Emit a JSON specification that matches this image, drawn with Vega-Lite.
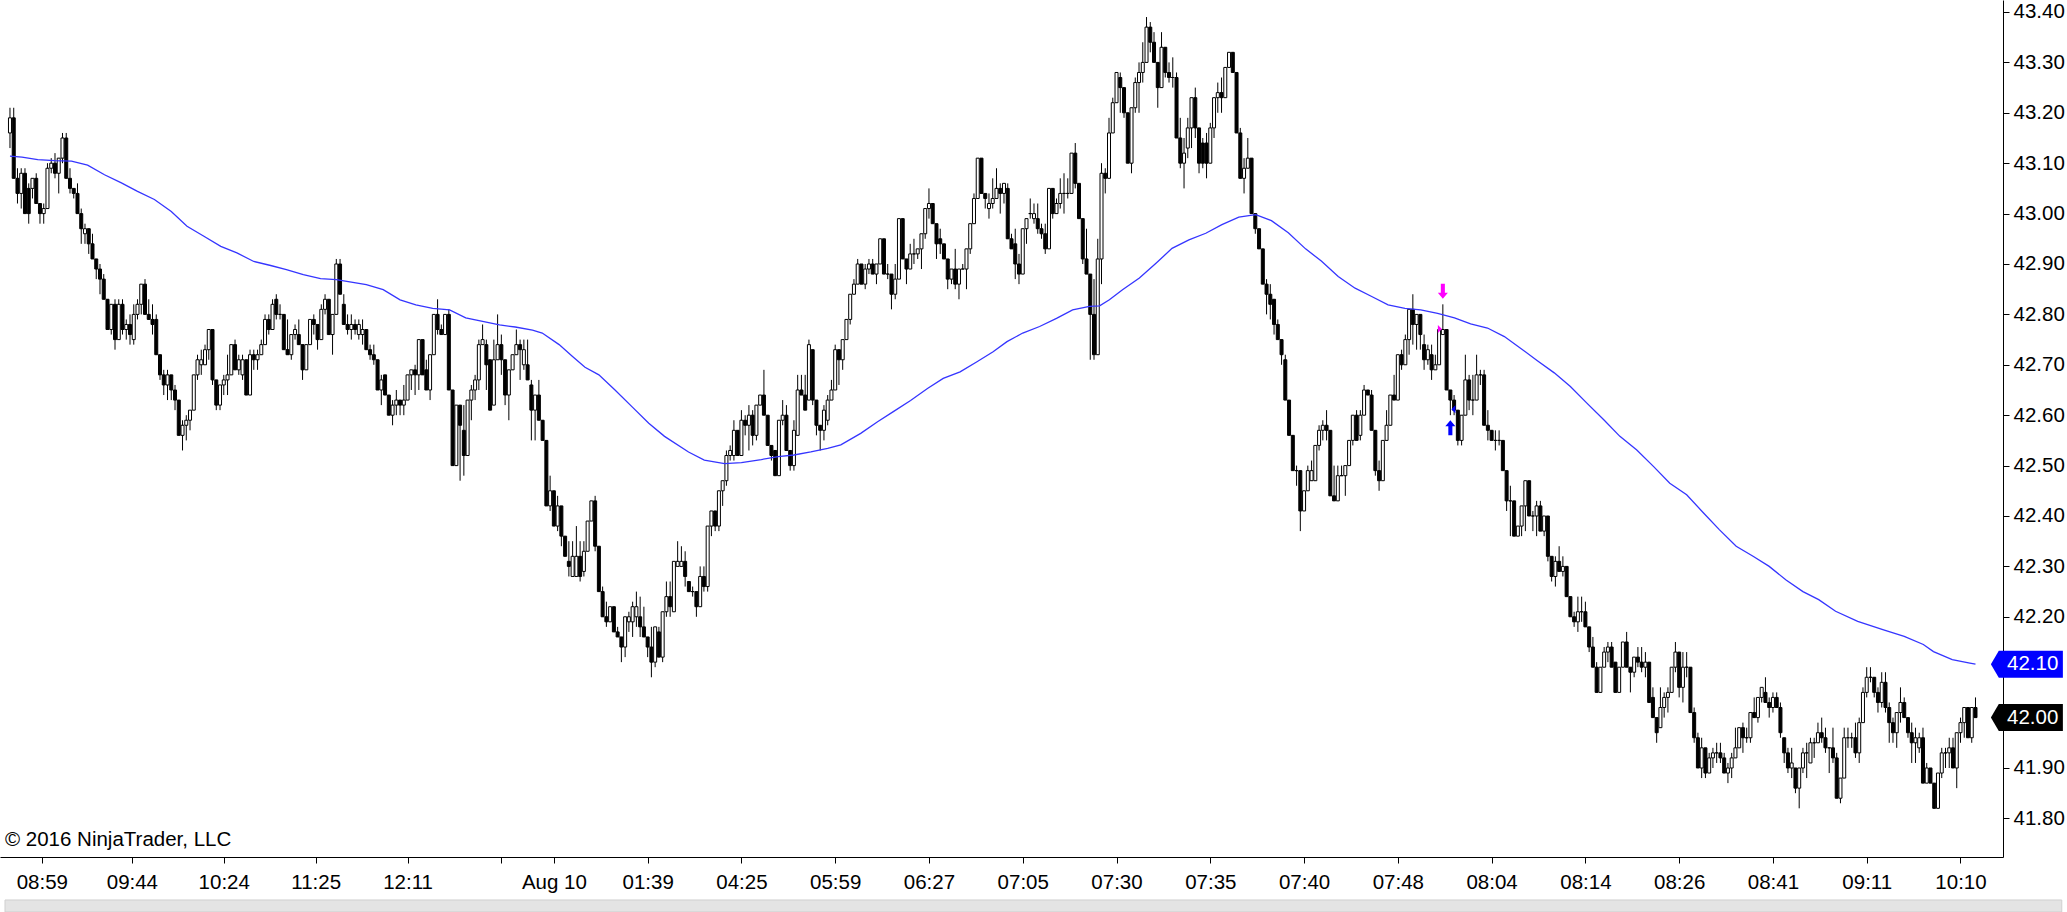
{
"$schema":"https://vega.github.io/schema/vega-lite/v6.json",
"width":2003,"height":857,
"autosize":{"type":"none"},
"padding":{"left":0,"top":0,"right":64,"bottom":55},
"background":"white",
"config":{"view":{"stroke":null},"font":"Liberation Sans",
"axis":{"labelFont":"Liberation Sans","labelFontSize":20.5,"labelColor":"#000000","domainColor":"#000000","tickColor":"#000000","grid":false,"tickSize":6,"domainWidth":1,"tickWidth":1}},
"datasets":{
"bars":[
{"i":0,"o":43.16,"h":43.21,"l":43.13,"c":43.19},{"i":1,"o":43.19,"h":43.21,"l":43.07,"c":43.07},{"i":2,"o":43.07,"h":43.09,"l":43.02,"c":43.04},{"i":3,"o":43.04,"h":43.09,"l":43.01,"c":43.08},{"i":4,"o":43.08,"h":43.09,"l":43.00,"c":43.00},{"i":5,"o":43.05,"h":43.06,"l":42.98,"c":43.00},{"i":6,"o":43.05,"h":43.07,"l":43.03,"c":43.07},{"i":7,"o":43.07,"h":43.08,"l":43.02,"c":43.02},{"i":8,"o":43.02,"h":43.02,"l":42.98,"c":43.00},{"i":9,"o":43.00,"h":43.02,"l":42.98,"c":43.01},
{"i":10,"o":43.01,"h":43.10,"l":43.01,"c":43.09},{"i":11,"o":43.09,"h":43.11,"l":43.08,"c":43.10},{"i":12,"o":43.10,"h":43.12,"l":43.07,"c":43.08},{"i":13,"o":43.08,"h":43.11,"l":43.04,"c":43.11},{"i":14,"o":43.11,"h":43.16,"l":43.10,"c":43.15},{"i":15,"o":43.15,"h":43.16,"l":43.07,"c":43.07},{"i":16,"o":43.07,"h":43.09,"l":43.04,"c":43.05},{"i":17,"o":43.05,"h":43.05,"l":43.03,"c":43.04},{"i":18,"o":43.04,"h":43.06,"l":43.00,"c":43.00},{"i":19,"o":43.00,"h":43.01,"l":42.94,"c":42.97},
{"i":20,"o":42.96,"h":42.98,"l":42.94,"c":42.97},{"i":21,"o":42.97,"h":42.97,"l":42.92,"c":42.94},{"i":22,"o":42.94,"h":42.96,"l":42.91,"c":42.91},{"i":23,"o":42.91,"h":42.91,"l":42.87,"c":42.89},{"i":24,"o":42.89,"h":42.90,"l":42.84,"c":42.87},{"i":25,"o":42.87,"h":42.88,"l":42.83,"c":42.83},{"i":26,"o":42.83,"h":42.83,"l":42.77,"c":42.77},{"i":27,"o":42.77,"h":42.82,"l":42.76,"c":42.82},{"i":28,"o":42.82,"h":42.83,"l":42.73,"c":42.75},{"i":29,"o":42.75,"h":42.83,"l":42.75,"c":42.82},
{"i":30,"o":42.82,"h":42.83,"l":42.76,"c":42.77},{"i":31,"o":42.77,"h":42.79,"l":42.75,"c":42.78},{"i":32,"o":42.78,"h":42.80,"l":42.74,"c":42.76},{"i":33,"o":42.75,"h":42.82,"l":42.74,"c":42.80},{"i":34,"o":42.80,"h":42.83,"l":42.79,"c":42.82},{"i":35,"o":42.82,"h":42.86,"l":42.80,"c":42.86},{"i":36,"o":42.86,"h":42.87,"l":42.80,"c":42.80},{"i":37,"o":42.80,"h":42.83,"l":42.79,"c":42.79},{"i":38,"o":42.79,"h":42.82,"l":42.76,"c":42.78},{"i":39,"o":42.79,"h":42.80,"l":42.72,"c":42.72},
{"i":40,"o":42.72,"h":42.72,"l":42.67,"c":42.68},{"i":41,"o":42.68,"h":42.69,"l":42.64,"c":42.66},{"i":42,"o":42.66,"h":42.69,"l":42.63,"c":42.68},{"i":43,"o":42.68,"h":42.68,"l":42.63,"c":42.65},{"i":44,"o":42.65,"h":42.66,"l":42.61,"c":42.63},{"i":45,"o":42.63,"h":42.63,"l":42.56,"c":42.56},{"i":46,"o":42.56,"h":42.59,"l":42.53,"c":42.58},{"i":47,"o":42.58,"h":42.60,"l":42.55,"c":42.59},{"i":48,"o":42.59,"h":42.61,"l":42.57,"c":42.61},{"i":49,"o":42.61,"h":42.68,"l":42.61,"c":42.68},
{"i":50,"o":42.68,"h":42.72,"l":42.67,"c":42.71},{"i":51,"o":42.70,"h":42.73,"l":42.68,"c":42.71},{"i":52,"o":42.70,"h":42.74,"l":42.70,"c":42.73},{"i":53,"o":42.73,"h":42.77,"l":42.71,"c":42.77},{"i":54,"o":42.77,"h":42.77,"l":42.66,"c":42.67},{"i":55,"o":42.67,"h":42.67,"l":42.61,"c":42.62},{"i":56,"o":42.62,"h":42.66,"l":42.61,"c":42.66},{"i":57,"o":42.66,"h":42.68,"l":42.64,"c":42.67},{"i":58,"o":42.67,"h":42.72,"l":42.64,"c":42.68},{"i":59,"o":42.68,"h":42.74,"l":42.68,"c":42.74},
{"i":60,"o":42.74,"h":42.75,"l":42.69,"c":42.69},{"i":61,"o":42.69,"h":42.72,"l":42.68,"c":42.71},{"i":62,"o":42.68,"h":42.72,"l":42.67,"c":42.71},{"i":63,"o":42.71,"h":42.71,"l":42.64,"c":42.64},{"i":64,"o":42.64,"h":42.73,"l":42.64,"c":42.72},{"i":65,"o":42.72,"h":42.73,"l":42.69,"c":42.71},{"i":66,"o":42.71,"h":42.73,"l":42.69,"c":42.72},{"i":67,"o":42.72,"h":42.75,"l":42.72,"c":42.74},{"i":68,"o":42.74,"h":42.80,"l":42.74,"c":42.79},{"i":69,"o":42.79,"h":42.80,"l":42.76,"c":42.77},
{"i":70,"o":42.77,"h":42.83,"l":42.77,"c":42.82},{"i":71,"o":42.83,"h":42.84,"l":42.79,"c":42.80},{"i":72,"o":42.80,"h":42.82,"l":42.79,"c":42.80},{"i":73,"o":42.80,"h":42.80,"l":42.73,"c":42.73},{"i":74,"o":42.73,"h":42.79,"l":42.72,"c":42.72},{"i":75,"o":42.72,"h":42.76,"l":42.71,"c":42.76},{"i":76,"o":42.76,"h":42.78,"l":42.75,"c":42.77},{"i":77,"o":42.76,"h":42.79,"l":42.74,"c":42.74},{"i":78,"o":42.74,"h":42.74,"l":42.67,"c":42.69},{"i":79,"o":42.69,"h":42.74,"l":42.69,"c":42.74},
{"i":80,"o":42.74,"h":42.79,"l":42.74,"c":42.79},{"i":81,"o":42.79,"h":42.80,"l":42.76,"c":42.78},{"i":82,"o":42.78,"h":42.78,"l":42.73,"c":42.75},{"i":83,"o":42.75,"h":42.82,"l":42.75,"c":42.81},{"i":84,"o":42.81,"h":42.84,"l":42.80,"c":42.83},{"i":85,"o":42.83,"h":42.83,"l":42.76,"c":42.76},{"i":86,"o":42.76,"h":42.80,"l":42.72,"c":42.80},{"i":87,"o":42.80,"h":42.91,"l":42.80,"c":42.90},{"i":88,"o":42.90,"h":42.91,"l":42.84,"c":42.84},{"i":89,"o":42.82,"h":42.84,"l":42.78,"c":42.78},
{"i":90,"o":42.78,"h":42.80,"l":42.76,"c":42.77},{"i":91,"o":42.77,"h":42.80,"l":42.75,"c":42.78},{"i":92,"o":42.78,"h":42.79,"l":42.76,"c":42.77},{"i":93,"o":42.76,"h":42.79,"l":42.75,"c":42.78},{"i":94,"o":42.76,"h":42.79,"l":42.74,"c":42.77},{"i":95,"o":42.77,"h":42.77,"l":42.73,"c":42.73},{"i":96,"o":42.73,"h":42.74,"l":42.71,"c":42.72},{"i":97,"o":42.72,"h":42.74,"l":42.70,"c":42.71},{"i":98,"o":42.71,"h":42.71,"l":42.65,"c":42.65},{"i":99,"o":42.65,"h":42.68,"l":42.62,"c":42.67},
{"i":100,"o":42.68,"h":42.68,"l":42.64,"c":42.64},{"i":101,"o":42.64,"h":42.64,"l":42.60,"c":42.60},{"i":102,"o":42.60,"h":42.63,"l":42.58,"c":42.62},{"i":103,"o":42.62,"h":42.65,"l":42.60,"c":42.63},{"i":104,"o":42.63,"h":42.63,"l":42.60,"c":42.62},{"i":105,"o":42.62,"h":42.66,"l":42.60,"c":42.63},{"i":106,"o":42.63,"h":42.68,"l":42.63,"c":42.68},{"i":107,"o":42.68,"h":42.69,"l":42.65,"c":42.69},{"i":108,"o":42.69,"h":42.70,"l":42.64,"c":42.68},{"i":109,"o":42.68,"h":42.75,"l":42.65,"c":42.75},
{"i":110,"o":42.75,"h":42.75,"l":42.68,"c":42.68},{"i":111,"o":42.69,"h":42.71,"l":42.65,"c":42.65},{"i":112,"o":42.65,"h":42.72,"l":42.63,"c":42.72},{"i":113,"o":42.72,"h":42.80,"l":42.72,"c":42.80},{"i":114,"o":42.80,"h":42.83,"l":42.76,"c":42.77},{"i":115,"o":42.77,"h":42.78,"l":42.76,"c":42.76},{"i":116,"o":42.76,"h":42.80,"l":42.76,"c":42.80},{"i":117,"o":42.80,"h":42.81,"l":42.65,"c":42.65},{"i":118,"o":42.65,"h":42.65,"l":42.50,"c":42.50},{"i":119,"o":42.50,"h":42.62,"l":42.50,"c":42.62},
{"i":120,"o":42.62,"h":42.62,"l":42.47,"c":42.58},{"i":121,"o":42.57,"h":42.62,"l":42.48,"c":42.52},{"i":122,"o":42.52,"h":42.63,"l":42.52,"c":42.63},{"i":123,"o":42.63,"h":42.66,"l":42.59,"c":42.65},{"i":124,"o":42.65,"h":42.68,"l":42.63,"c":42.67},{"i":125,"o":42.67,"h":42.75,"l":42.65,"c":42.74},{"i":126,"o":42.74,"h":42.78,"l":42.74,"c":42.75},{"i":127,"o":42.74,"h":42.75,"l":42.65,"c":42.70},{"i":128,"o":42.71,"h":42.71,"l":42.61,"c":42.61},{"i":129,"o":42.62,"h":42.75,"l":42.62,"c":42.71},
{"i":130,"o":42.71,"h":42.80,"l":42.71,"c":42.74},{"i":131,"o":42.74,"h":42.76,"l":42.68,"c":42.71},{"i":132,"o":42.71,"h":42.71,"l":42.62,"c":42.64},{"i":133,"o":42.64,"h":42.69,"l":42.59,"c":42.69},{"i":134,"o":42.69,"h":42.72,"l":42.69,"c":42.72},{"i":135,"o":42.72,"h":42.77,"l":42.72,"c":42.74},{"i":136,"o":42.74,"h":42.75,"l":42.67,"c":42.73},{"i":137,"o":42.70,"h":42.75,"l":42.69,"c":42.73},{"i":138,"o":42.70,"h":42.75,"l":42.67,"c":42.67},{"i":139,"o":42.66,"h":42.67,"l":42.55,"c":42.61},
{"i":140,"o":42.61,"h":42.64,"l":42.55,"c":42.64},{"i":141,"o":42.64,"h":42.67,"l":42.59,"c":42.59},{"i":142,"o":42.59,"h":42.59,"l":42.55,"c":42.55},{"i":143,"o":42.55,"h":42.55,"l":42.42,"c":42.42},{"i":144,"o":42.42,"h":42.48,"l":42.41,"c":42.45},{"i":145,"o":42.45,"h":42.45,"l":42.38,"c":42.38},{"i":146,"o":42.38,"h":42.44,"l":42.37,"c":42.42},{"i":147,"o":42.42,"h":42.42,"l":42.34,"c":42.36},{"i":148,"o":42.36,"h":42.36,"l":42.32,"c":42.32},{"i":149,"o":42.31,"h":42.35,"l":42.28,"c":42.30},
{"i":150,"o":42.28,"h":42.35,"l":42.28,"c":42.32},{"i":151,"o":42.28,"h":42.38,"l":42.28,"c":42.32},{"i":152,"o":42.32,"h":42.35,"l":42.27,"c":42.28},{"i":153,"o":42.29,"h":42.35,"l":42.28,"c":42.33},{"i":154,"o":42.33,"h":42.39,"l":42.33,"c":42.39},{"i":155,"o":42.39,"h":42.43,"l":42.39,"c":42.43},{"i":156,"o":42.43,"h":42.44,"l":42.33,"c":42.34},{"i":157,"o":42.34,"h":42.34,"l":42.25,"c":42.25},{"i":158,"o":42.25,"h":42.26,"l":42.20,"c":42.20},{"i":159,"o":42.20,"h":42.23,"l":42.18,"c":42.19},
{"i":160,"o":42.19,"h":42.22,"l":42.19,"c":42.22},{"i":161,"o":42.22,"h":42.22,"l":42.17,"c":42.17},{"i":162,"o":42.17,"h":42.18,"l":42.16,"c":42.16},{"i":163,"o":42.16,"h":42.16,"l":42.11,"c":42.14},{"i":164,"o":42.14,"h":42.20,"l":42.12,"c":42.20},{"i":165,"o":42.19,"h":42.21,"l":42.17,"c":42.20},{"i":166,"o":42.19,"h":42.23,"l":42.16,"c":42.22},{"i":167,"o":42.20,"h":42.25,"l":42.18,"c":42.22},{"i":168,"o":42.20,"h":42.24,"l":42.16,"c":42.18},{"i":169,"o":42.18,"h":42.22,"l":42.16,"c":42.16},
{"i":170,"o":42.16,"h":42.16,"l":42.12,"c":42.14},{"i":171,"o":42.14,"h":42.18,"l":42.08,"c":42.11},{"i":172,"o":42.11,"h":42.18,"l":42.10,"c":42.18},{"i":173,"o":42.17,"h":42.18,"l":42.12,"c":42.12},{"i":174,"o":42.12,"h":42.21,"l":42.11,"c":42.21},{"i":175,"o":42.21,"h":42.27,"l":42.20,"c":42.24},{"i":176,"o":42.24,"h":42.27,"l":42.20,"c":42.22},{"i":177,"o":42.21,"h":42.31,"l":42.21,"c":42.31},{"i":178,"o":42.30,"h":42.35,"l":42.30,"c":42.31},{"i":179,"o":42.30,"h":42.34,"l":42.30,"c":42.31},
{"i":180,"o":42.31,"h":42.33,"l":42.26,"c":42.28},{"i":181,"o":42.27,"h":42.27,"l":42.25,"c":42.25},{"i":182,"o":42.25,"h":42.26,"l":42.24,"c":42.25},{"i":183,"o":42.25,"h":42.25,"l":42.20,"c":42.22},{"i":184,"o":42.22,"h":42.30,"l":42.22,"c":42.28},{"i":185,"o":42.28,"h":42.30,"l":42.25,"c":42.26},{"i":186,"o":42.26,"h":42.38,"l":42.25,"c":42.38},{"i":187,"o":42.38,"h":42.41,"l":42.36,"c":42.41},{"i":188,"o":42.41,"h":42.41,"l":42.37,"c":42.38},{"i":189,"o":42.38,"h":42.45,"l":42.37,"c":42.45},
{"i":190,"o":42.45,"h":42.47,"l":42.42,"c":42.47},{"i":191,"o":42.47,"h":42.53,"l":42.46,"c":42.52},{"i":192,"o":42.52,"h":42.54,"l":42.51,"c":42.53},{"i":193,"o":42.52,"h":42.59,"l":42.51,"c":42.57},{"i":194,"o":42.57,"h":42.57,"l":42.52,"c":42.52},{"i":195,"o":42.52,"h":42.61,"l":42.52,"c":42.59},{"i":196,"o":42.59,"h":42.60,"l":42.56,"c":42.58},{"i":197,"o":42.58,"h":42.62,"l":42.53,"c":42.60},{"i":198,"o":42.60,"h":42.61,"l":42.54,"c":42.56},{"i":199,"o":42.56,"h":42.62,"l":42.55,"c":42.62},
{"i":200,"o":42.62,"h":42.64,"l":42.62,"c":42.64},{"i":201,"o":42.64,"h":42.69,"l":42.60,"c":42.60},{"i":202,"o":42.60,"h":42.60,"l":42.54,"c":42.54},{"i":203,"o":42.54,"h":42.54,"l":42.51,"c":42.52},{"i":204,"o":42.53,"h":42.53,"l":42.48,"c":42.48},{"i":205,"o":42.48,"h":42.59,"l":42.48,"c":42.59},{"i":206,"o":42.59,"h":42.63,"l":42.58,"c":42.60},{"i":207,"o":42.60,"h":42.62,"l":42.53,"c":42.53},{"i":208,"o":42.53,"h":42.53,"l":42.49,"c":42.50},{"i":209,"o":42.50,"h":42.59,"l":42.49,"c":42.57},
{"i":210,"o":42.56,"h":42.68,"l":42.56,"c":42.65},{"i":211,"o":42.65,"h":42.68,"l":42.64,"c":42.64},{"i":212,"o":42.64,"h":42.68,"l":42.61,"c":42.61},{"i":213,"o":42.63,"h":42.75,"l":42.63,"c":42.74},{"i":214,"o":42.73,"h":42.73,"l":42.62,"c":42.63},{"i":215,"o":42.63,"h":42.63,"l":42.56,"c":42.58},{"i":216,"o":42.58,"h":42.58,"l":42.53,"c":42.57},{"i":217,"o":42.57,"h":42.62,"l":42.55,"c":42.61},{"i":218,"o":42.59,"h":42.64,"l":42.58,"c":42.63},{"i":219,"o":42.63,"h":42.67,"l":42.63,"c":42.65},
{"i":220,"o":42.65,"h":42.74,"l":42.65,"c":42.73},{"i":221,"o":42.73,"h":42.73,"l":42.66,"c":42.71},{"i":222,"o":42.71,"h":42.75,"l":42.69,"c":42.75},{"i":223,"o":42.75,"h":42.79,"l":42.75,"c":42.79},{"i":224,"o":42.79,"h":42.84,"l":42.78,"c":42.84},{"i":225,"o":42.84,"h":42.87,"l":42.84,"c":42.86},{"i":226,"o":42.86,"h":42.91,"l":42.86,"c":42.90},{"i":227,"o":42.90,"h":42.90,"l":42.86,"c":42.86},{"i":228,"o":42.86,"h":42.90,"l":42.85,"c":42.89},{"i":229,"o":42.89,"h":42.91,"l":42.88,"c":42.90},
{"i":230,"o":42.90,"h":42.91,"l":42.88,"c":42.88},{"i":231,"o":42.88,"h":42.90,"l":42.86,"c":42.90},{"i":232,"o":42.90,"h":42.95,"l":42.90,"c":42.95},{"i":233,"o":42.95,"h":42.95,"l":42.88,"c":42.88},{"i":234,"o":42.88,"h":42.90,"l":42.87,"c":42.88},{"i":235,"o":42.88,"h":42.88,"l":42.81,"c":42.84},{"i":236,"o":42.84,"h":42.90,"l":42.83,"c":42.87},{"i":237,"o":42.87,"h":42.99,"l":42.87,"c":42.99},{"i":238,"o":42.99,"h":42.99,"l":42.91,"c":42.91},{"i":239,"o":42.91,"h":42.91,"l":42.86,"c":42.89},
{"i":240,"o":42.89,"h":42.94,"l":42.89,"c":42.92},{"i":241,"o":42.92,"h":42.95,"l":42.90,"c":42.92},{"i":242,"o":42.92,"h":42.93,"l":42.91,"c":42.93},{"i":243,"o":42.93,"h":42.96,"l":42.89,"c":42.96},{"i":244,"o":42.96,"h":43.01,"l":42.95,"c":43.01},{"i":245,"o":43.01,"h":43.05,"l":42.99,"c":43.02},{"i":246,"o":43.02,"h":43.02,"l":42.98,"c":42.98},{"i":247,"o":42.98,"h":42.98,"l":42.91,"c":42.94},{"i":248,"o":42.95,"h":42.97,"l":42.92,"c":42.94},{"i":249,"o":42.94,"h":42.94,"l":42.91,"c":42.91},
{"i":250,"o":42.91,"h":42.91,"l":42.85,"c":42.87},{"i":251,"o":42.87,"h":42.89,"l":42.86,"c":42.89},{"i":252,"o":42.89,"h":42.93,"l":42.85,"c":42.86},{"i":253,"o":42.86,"h":42.89,"l":42.83,"c":42.89},{"i":254,"o":42.89,"h":42.90,"l":42.89,"c":42.89},{"i":255,"o":42.89,"h":42.93,"l":42.85,"c":42.93},{"i":256,"o":42.93,"h":42.98,"l":42.92,"c":42.98},{"i":257,"o":42.98,"h":43.04,"l":42.98,"c":43.03},{"i":258,"o":43.03,"h":43.11,"l":43.03,"c":43.11},{"i":259,"o":43.11,"h":43.11,"l":43.04,"c":43.04},
{"i":260,"o":43.04,"h":43.04,"l":43.01,"c":43.03},{"i":261,"o":43.01,"h":43.04,"l":42.99,"c":43.02},{"i":262,"o":43.02,"h":43.07,"l":43.01,"c":43.03},{"i":263,"o":43.03,"h":43.09,"l":43.03,"c":43.05},{"i":264,"o":43.05,"h":43.06,"l":43.00,"c":43.04},{"i":265,"o":43.04,"h":43.06,"l":43.02,"c":43.06},{"i":266,"o":43.05,"h":43.06,"l":42.95,"c":42.95},{"i":267,"o":42.95,"h":42.96,"l":42.93,"c":42.93},{"i":268,"o":42.94,"h":42.97,"l":42.87,"c":42.90},{"i":269,"o":42.90,"h":42.92,"l":42.86,"c":42.88},
{"i":270,"o":42.88,"h":42.97,"l":42.88,"c":42.97},{"i":271,"o":42.97,"h":42.99,"l":42.94,"c":42.99},{"i":272,"o":43.00,"h":43.03,"l":42.99,"c":43.00},{"i":273,"o":42.99,"h":43.02,"l":42.98,"c":43.00},{"i":274,"o":42.99,"h":43.02,"l":42.96,"c":42.97},{"i":275,"o":42.97,"h":42.98,"l":42.95,"c":42.96},{"i":276,"o":42.96,"h":42.98,"l":42.92,"c":42.93},{"i":277,"o":42.93,"h":43.05,"l":42.93,"c":43.05},{"i":278,"o":43.05,"h":43.05,"l":42.99,"c":43.00},{"i":279,"o":43.00,"h":43.03,"l":43.00,"c":43.02},
{"i":280,"o":43.02,"h":43.07,"l":43.01,"c":43.04},{"i":281,"o":43.04,"h":43.08,"l":43.00,"c":43.04},{"i":282,"o":43.04,"h":43.07,"l":43.03,"c":43.04},{"i":283,"o":43.04,"h":43.12,"l":43.04,"c":43.12},{"i":284,"o":43.12,"h":43.14,"l":43.05,"c":43.06},{"i":285,"o":43.06,"h":43.06,"l":42.99,"c":42.99},{"i":286,"o":42.99,"h":42.99,"l":42.90,"c":42.91},{"i":287,"o":42.91,"h":42.97,"l":42.88,"c":42.88},{"i":288,"o":42.88,"h":42.88,"l":42.71,"c":42.80},{"i":289,"o":42.80,"h":42.87,"l":42.71,"c":42.72},
{"i":290,"o":42.72,"h":42.95,"l":42.72,"c":42.91},{"i":291,"o":42.91,"h":43.10,"l":42.86,"c":43.08},{"i":292,"o":43.08,"h":43.09,"l":43.04,"c":43.07},{"i":293,"o":43.07,"h":43.19,"l":43.07,"c":43.16},{"i":294,"o":43.16,"h":43.23,"l":43.16,"c":43.22},{"i":295,"o":43.22,"h":43.28,"l":43.22,"c":43.28},{"i":296,"o":43.27,"h":43.28,"l":43.20,"c":43.25},{"i":297,"o":43.25,"h":43.25,"l":43.19,"c":43.20},{"i":298,"o":43.20,"h":43.20,"l":43.10,"c":43.10},{"i":299,"o":43.10,"h":43.21,"l":43.08,"c":43.21},
{"i":300,"o":43.21,"h":43.27,"l":43.20,"c":43.26},{"i":301,"o":43.26,"h":43.30,"l":43.20,"c":43.28},{"i":302,"o":43.28,"h":43.34,"l":43.26,"c":43.30},{"i":303,"o":43.30,"h":43.39,"l":43.30,"c":43.37},{"i":304,"o":43.37,"h":43.38,"l":43.32,"c":43.34},{"i":305,"o":43.34,"h":43.36,"l":43.30,"c":43.30},{"i":306,"o":43.30,"h":43.30,"l":43.21,"c":43.25},{"i":307,"o":43.25,"h":43.36,"l":43.25,"c":43.33},{"i":308,"o":43.33,"h":43.33,"l":43.27,"c":43.28},{"i":309,"o":43.28,"h":43.30,"l":43.26,"c":43.27},
{"i":310,"o":43.27,"h":43.31,"l":43.25,"c":43.27},{"i":311,"o":43.27,"h":43.28,"l":43.15,"c":43.15},{"i":312,"o":43.15,"h":43.19,"l":43.09,"c":43.10},{"i":313,"o":43.10,"h":43.15,"l":43.05,"c":43.12},{"i":314,"o":43.13,"h":43.19,"l":43.11,"c":43.17},{"i":315,"o":43.17,"h":43.23,"l":43.13,"c":43.23},{"i":316,"o":43.23,"h":43.25,"l":43.15,"c":43.17},{"i":317,"o":43.17,"h":43.17,"l":43.08,"c":43.10},{"i":318,"o":43.14,"h":43.15,"l":43.09,"c":43.10},{"i":319,"o":43.14,"h":43.16,"l":43.07,"c":43.10},
{"i":320,"o":43.10,"h":43.18,"l":43.10,"c":43.17},{"i":321,"o":43.17,"h":43.23,"l":43.15,"c":43.23},{"i":322,"o":43.23,"h":43.26,"l":43.20,"c":43.24},{"i":323,"o":43.24,"h":43.27,"l":43.20,"c":43.23},{"i":324,"o":43.23,"h":43.29,"l":43.23,"c":43.29},{"i":325,"o":43.29,"h":43.32,"l":43.29,"c":43.32},{"i":326,"o":43.32,"h":43.32,"l":43.28,"c":43.28},{"i":327,"o":43.28,"h":43.28,"l":43.16,"c":43.16},{"i":328,"o":43.16,"h":43.17,"l":43.07,"c":43.07},{"i":329,"o":43.07,"h":43.11,"l":43.04,"c":43.09},
{"i":330,"o":43.09,"h":43.15,"l":43.09,"c":43.11},{"i":331,"o":43.11,"h":43.11,"l":43.00,"c":43.00},{"i":332,"o":43.00,"h":43.00,"l":42.96,"c":42.97},{"i":333,"o":42.97,"h":42.97,"l":42.93,"c":42.93},{"i":334,"o":42.93,"h":42.93,"l":42.86,"c":42.86},{"i":335,"o":42.86,"h":42.87,"l":42.80,"c":42.84},{"i":336,"o":42.84,"h":42.86,"l":42.79,"c":42.82},{"i":337,"o":42.83,"h":42.83,"l":42.76,"c":42.78},{"i":338,"o":42.78,"h":42.79,"l":42.75,"c":42.75},{"i":339,"o":42.75,"h":42.75,"l":42.70,"c":42.72},
{"i":340,"o":42.71,"h":42.72,"l":42.63,"c":42.63},{"i":341,"o":42.63,"h":42.63,"l":42.56,"c":42.56},{"i":342,"o":42.56,"h":42.56,"l":42.49,"c":42.49},{"i":343,"o":42.49,"h":42.50,"l":42.46,"c":42.49},{"i":344,"o":42.49,"h":42.49,"l":42.37,"c":42.41},{"i":345,"o":42.41,"h":42.45,"l":42.41,"c":42.45},{"i":346,"o":42.45,"h":42.50,"l":42.45,"c":42.49},{"i":347,"o":42.47,"h":42.51,"l":42.47,"c":42.49},{"i":348,"o":42.47,"h":42.54,"l":42.47,"c":42.54},{"i":349,"o":42.54,"h":42.58,"l":42.53,"c":42.57},
{"i":350,"o":42.57,"h":42.59,"l":42.55,"c":42.58},{"i":351,"o":42.58,"h":42.61,"l":42.55,"c":42.57},{"i":352,"o":42.57,"h":42.57,"l":42.44,"c":42.44},{"i":353,"o":42.44,"h":42.50,"l":42.43,"c":42.43},{"i":354,"o":42.43,"h":42.50,"l":42.43,"c":42.48},{"i":355,"o":42.48,"h":42.50,"l":42.48,"c":42.48},{"i":356,"o":42.48,"h":42.50,"l":42.44,"c":42.50},{"i":357,"o":42.50,"h":42.55,"l":42.50,"c":42.55},{"i":358,"o":42.55,"h":42.60,"l":42.54,"c":42.60},{"i":359,"o":42.60,"h":42.61,"l":42.55,"c":42.55},
{"i":360,"o":42.56,"h":42.61,"l":42.55,"c":42.60},{"i":361,"o":42.60,"h":42.66,"l":42.60,"c":42.65},{"i":362,"o":42.65,"h":42.65,"l":42.64,"c":42.64},{"i":363,"o":42.64,"h":42.65,"l":42.57,"c":42.57},{"i":364,"o":42.57,"h":42.57,"l":42.48,"c":42.49},{"i":365,"o":42.49,"h":42.51,"l":42.45,"c":42.47},{"i":366,"o":42.47,"h":42.55,"l":42.47,"c":42.55},{"i":367,"o":42.55,"h":42.61,"l":42.55,"c":42.58},{"i":368,"o":42.58,"h":42.64,"l":42.58,"c":42.64},{"i":369,"o":42.64,"h":42.68,"l":42.63,"c":42.63},
{"i":370,"o":42.63,"h":42.72,"l":42.63,"c":42.72},{"i":371,"o":42.72,"h":42.73,"l":42.69,"c":42.70},{"i":372,"o":42.70,"h":42.76,"l":42.70,"c":42.75},{"i":373,"o":42.75,"h":42.81,"l":42.72,"c":42.81},{"i":374,"o":42.81,"h":42.84,"l":42.74,"c":42.78},{"i":375,"o":42.78,"h":42.80,"l":42.73,"c":42.80},{"i":376,"o":42.80,"h":42.80,"l":42.73,"c":42.76},{"i":377,"o":42.74,"h":42.76,"l":42.69,"c":42.71},{"i":378,"o":42.71,"h":42.74,"l":42.70,"c":42.73},{"i":379,"o":42.72,"h":42.74,"l":42.67,"c":42.69},
{"i":380,"o":42.69,"h":42.72,"l":42.69,"c":42.70},{"i":381,"o":42.70,"h":42.77,"l":42.70,"c":42.77},{"i":382,"o":42.76,"h":42.82,"l":42.76,"c":42.77},{"i":383,"o":42.77,"h":42.77,"l":42.65,"c":42.65},{"i":384,"o":42.65,"h":42.65,"l":42.60,"c":42.63},{"i":385,"o":42.63,"h":42.64,"l":42.60,"c":42.61},{"i":386,"o":42.61,"h":42.61,"l":42.54,"c":42.55},{"i":387,"o":42.55,"h":42.60,"l":42.54,"c":42.60},{"i":388,"o":42.60,"h":42.72,"l":42.60,"c":42.67},{"i":389,"o":42.67,"h":42.68,"l":42.61,"c":42.63},
{"i":390,"o":42.63,"h":42.68,"l":42.60,"c":42.63},{"i":391,"o":42.63,"h":42.72,"l":42.63,"c":42.68},{"i":392,"o":42.68,"h":42.69,"l":42.66,"c":42.68},{"i":393,"o":42.68,"h":42.69,"l":42.58,"c":42.58},{"i":394,"o":42.58,"h":42.61,"l":42.55,"c":42.57},{"i":395,"o":42.57,"h":42.57,"l":42.55,"c":42.55},{"i":396,"o":42.55,"h":42.57,"l":42.53,"c":42.55},{"i":397,"o":42.55,"h":42.57,"l":42.54,"c":42.55},{"i":398,"o":42.55,"h":42.55,"l":42.49,"c":42.49},{"i":399,"o":42.49,"h":42.49,"l":42.41,"c":42.43},
{"i":400,"o":42.43,"h":42.46,"l":42.36,"c":42.43},{"i":401,"o":42.43,"h":42.43,"l":42.36,"c":42.36},{"i":402,"o":42.36,"h":42.38,"l":42.36,"c":42.38},{"i":403,"o":42.38,"h":42.42,"l":42.36,"c":42.42},{"i":404,"o":42.42,"h":42.47,"l":42.37,"c":42.47},{"i":405,"o":42.47,"h":42.47,"l":42.40,"c":42.40},{"i":406,"o":42.40,"h":42.41,"l":42.37,"c":42.40},{"i":407,"o":42.40,"h":42.43,"l":42.36,"c":42.42},{"i":408,"o":42.42,"h":42.43,"l":42.37,"c":42.37},{"i":409,"o":42.37,"h":42.40,"l":42.36,"c":42.40},
{"i":410,"o":42.40,"h":42.40,"l":42.31,"c":42.32},{"i":411,"o":42.32,"h":42.32,"l":42.27,"c":42.28},{"i":412,"o":42.28,"h":42.32,"l":42.26,"c":42.31},{"i":413,"o":42.31,"h":42.34,"l":42.29,"c":42.29},{"i":414,"o":42.29,"h":42.32,"l":42.28,"c":42.30},{"i":415,"o":42.30,"h":42.30,"l":42.24,"c":42.24},{"i":416,"o":42.24,"h":42.24,"l":42.20,"c":42.20},{"i":417,"o":42.20,"h":42.21,"l":42.18,"c":42.19},{"i":418,"o":42.19,"h":42.24,"l":42.17,"c":42.21},{"i":419,"o":42.21,"h":42.24,"l":42.19,"c":42.21},
{"i":420,"o":42.21,"h":42.23,"l":42.18,"c":42.18},{"i":421,"o":42.18,"h":42.18,"l":42.13,"c":42.14},{"i":422,"o":42.14,"h":42.16,"l":42.10,"c":42.10},{"i":423,"o":42.10,"h":42.11,"l":42.05,"c":42.05},{"i":424,"o":42.05,"h":42.10,"l":42.05,"c":42.10},{"i":425,"o":42.10,"h":42.14,"l":42.10,"c":42.13},{"i":426,"o":42.13,"h":42.15,"l":42.11,"c":42.14},{"i":427,"o":42.14,"h":42.15,"l":42.10,"c":42.10},{"i":428,"o":42.11,"h":42.11,"l":42.05,"c":42.05},{"i":429,"o":42.05,"h":42.10,"l":42.05,"c":42.10},
{"i":430,"o":42.10,"h":42.15,"l":42.10,"c":42.15},{"i":431,"o":42.15,"h":42.17,"l":42.10,"c":42.10},{"i":432,"o":42.10,"h":42.10,"l":42.05,"c":42.09},{"i":433,"o":42.09,"h":42.12,"l":42.08,"c":42.12},{"i":434,"o":42.12,"h":42.14,"l":42.10,"c":42.11},{"i":435,"o":42.11,"h":42.14,"l":42.09,"c":42.10},{"i":436,"o":42.10,"h":42.13,"l":42.08,"c":42.11},{"i":437,"o":42.11,"h":42.11,"l":42.03,"c":42.03},{"i":438,"o":42.04,"h":42.06,"l":42.00,"c":42.00},{"i":439,"o":42.00,"h":42.00,"l":41.95,"c":41.97},
{"i":440,"o":41.98,"h":42.06,"l":41.98,"c":42.02},{"i":441,"o":42.02,"h":42.05,"l":42.00,"c":42.04},{"i":442,"o":42.04,"h":42.06,"l":42.01,"c":42.05},{"i":443,"o":42.05,"h":42.10,"l":42.05,"c":42.10},{"i":444,"o":42.10,"h":42.15,"l":42.09,"c":42.13},{"i":445,"o":42.13,"h":42.13,"l":42.04,"c":42.06},{"i":446,"o":42.06,"h":42.13,"l":42.03,"c":42.10},{"i":447,"o":42.10,"h":42.13,"l":42.08,"c":42.10},{"i":448,"o":42.10,"h":42.10,"l":42.01,"c":42.01},{"i":449,"o":42.01,"h":42.02,"l":41.95,"c":41.96},
{"i":450,"o":41.96,"h":41.97,"l":41.90,"c":41.90},{"i":451,"o":41.90,"h":41.96,"l":41.88,"c":41.94},{"i":452,"o":41.94,"h":41.94,"l":41.88,"c":41.89},{"i":453,"o":41.89,"h":41.93,"l":41.89,"c":41.92},{"i":454,"o":41.92,"h":41.94,"l":41.90,"c":41.93},{"i":455,"o":41.93,"h":41.95,"l":41.91,"c":41.93},{"i":456,"o":41.93,"h":41.95,"l":41.91,"c":41.92},{"i":457,"o":41.92,"h":41.93,"l":41.89,"c":41.89},{"i":458,"o":41.89,"h":41.91,"l":41.87,"c":41.90},{"i":459,"o":41.90,"h":41.93,"l":41.88,"c":41.92},
{"i":460,"o":41.92,"h":41.98,"l":41.92,"c":41.94},{"i":461,"o":41.94,"h":41.98,"l":41.94,"c":41.98},{"i":462,"o":41.98,"h":41.99,"l":41.93,"c":41.96},{"i":463,"o":41.96,"h":41.98,"l":41.95,"c":41.96},{"i":464,"o":41.96,"h":42.01,"l":41.95,"c":42.01},{"i":465,"o":42.01,"h":42.04,"l":42.00,"c":42.00},{"i":466,"o":42.00,"h":42.04,"l":41.99,"c":42.04},{"i":467,"o":42.04,"h":42.06,"l":42.03,"c":42.06},{"i":468,"o":42.05,"h":42.08,"l":42.03,"c":42.03},{"i":469,"o":42.03,"h":42.04,"l":42.00,"c":42.02},
{"i":470,"o":42.02,"h":42.05,"l":42.01,"c":42.04},{"i":471,"o":42.04,"h":42.05,"l":42.02,"c":42.02},{"i":472,"o":42.02,"h":42.03,"l":41.96,"c":41.97},{"i":473,"o":41.96,"h":41.96,"l":41.91,"c":41.93},{"i":474,"o":41.93,"h":41.94,"l":41.89,"c":41.90},{"i":475,"o":41.90,"h":41.94,"l":41.88,"c":41.91},{"i":476,"o":41.90,"h":41.90,"l":41.85,"c":41.86},{"i":477,"o":41.86,"h":41.90,"l":41.82,"c":41.90},{"i":478,"o":41.90,"h":41.94,"l":41.89,"c":41.93},{"i":479,"o":41.93,"h":41.95,"l":41.88,"c":41.93},
{"i":480,"o":41.91,"h":41.96,"l":41.91,"c":41.95},{"i":481,"o":41.95,"h":41.96,"l":41.92,"c":41.95},{"i":482,"o":41.95,"h":41.99,"l":41.95,"c":41.97},{"i":483,"o":41.97,"h":42.00,"l":41.95,"c":41.96},{"i":484,"o":41.96,"h":41.98,"l":41.93,"c":41.94},{"i":485,"o":41.94,"h":41.94,"l":41.89,"c":41.94},{"i":486,"o":41.94,"h":41.98,"l":41.91,"c":41.92},{"i":487,"o":41.92,"h":41.93,"l":41.84,"c":41.84},{"i":488,"o":41.84,"h":41.88,"l":41.83,"c":41.88},{"i":489,"o":41.88,"h":41.98,"l":41.88,"c":41.96},
{"i":490,"o":41.96,"h":41.98,"l":41.94,"c":41.96},{"i":491,"o":41.96,"h":41.97,"l":41.94,"c":41.96},{"i":492,"o":41.96,"h":41.99,"l":41.92,"c":41.93},{"i":493,"o":41.93,"h":42.00,"l":41.91,"c":41.99},{"i":494,"o":41.99,"h":42.06,"l":41.99,"c":42.05},{"i":495,"o":42.05,"h":42.10,"l":42.04,"c":42.08},{"i":496,"o":42.08,"h":42.10,"l":42.07,"c":42.08},{"i":497,"o":42.08,"h":42.08,"l":42.04,"c":42.05},{"i":498,"o":42.05,"h":42.06,"l":42.01,"c":42.03},{"i":499,"o":42.03,"h":42.09,"l":42.02,"c":42.07},
{"i":500,"o":42.07,"h":42.09,"l":42.01,"c":42.02},{"i":501,"o":42.02,"h":42.03,"l":41.95,"c":41.99},{"i":502,"o":41.99,"h":42.00,"l":41.95,"c":41.97},{"i":503,"o":41.97,"h":42.01,"l":41.94,"c":42.01},{"i":504,"o":42.01,"h":42.06,"l":41.99,"c":42.03},{"i":505,"o":42.03,"h":42.04,"l":42.00,"c":42.00},{"i":506,"o":42.00,"h":42.00,"l":41.96,"c":41.97},{"i":507,"o":41.97,"h":41.99,"l":41.91,"c":41.95},{"i":508,"o":41.95,"h":41.98,"l":41.91,"c":41.96},{"i":509,"o":41.94,"h":41.97,"l":41.93,"c":41.96},
{"i":510,"o":41.96,"h":41.98,"l":41.87,"c":41.87},{"i":511,"o":41.87,"h":41.91,"l":41.87,"c":41.90},{"i":512,"o":41.90,"h":41.90,"l":41.87,"c":41.87},{"i":513,"o":41.87,"h":41.87,"l":41.82,"c":41.82},{"i":514,"o":41.82,"h":41.89,"l":41.82,"c":41.89},{"i":515,"o":41.89,"h":41.94,"l":41.88,"c":41.93},{"i":516,"o":41.93,"h":41.94,"l":41.90,"c":41.93},{"i":517,"o":41.93,"h":41.96,"l":41.90,"c":41.94},{"i":518,"o":41.94,"h":41.96,"l":41.90,"c":41.90},{"i":519,"o":41.90,"h":41.97,"l":41.86,"c":41.97},
{"i":520,"o":41.97,"h":42.00,"l":41.95,"c":41.99},{"i":521,"o":41.99,"h":42.02,"l":41.96,"c":42.02},{"i":522,"o":42.02,"h":42.02,"l":41.96,"c":41.96},{"i":523,"o":41.96,"h":42.02,"l":41.95,"c":42.02},{"i":524,"o":42.02,"h":42.04,"l":42.00,"c":42.00}
],
"ma":[
{"i":0,"ma":43.114},{"i":3.2,"ma":43.112},{"i":7.4,"ma":43.107},{"i":11.9,"ma":43.105},{"i":16.4,"ma":43.104},{"i":20.7,"ma":43.096},{"i":25.2,"ma":43.077},{"i":29.7,"ma":43.061},{"i":34,"ma":43.044},{"i":38.5,"ma":43.028},{"i":43,"ma":43.004},{"i":47.2,"ma":42.975},{"i":51.7,"ma":42.955},{"i":56.2,"ma":42.935},{"i":60.5,"ma":42.922},{"i":65,"ma":42.905},{"i":69.5,"ma":42.897},{"i":73.7,"ma":42.889},{"i":78.2,"ma":42.879},{"i":82.8,"ma":42.871},{"i":87,"ma":42.869},{"i":91,"ma":42.864},{"i":95,"ma":42.859},{"i":99.5,"ma":42.849},{"i":104,"ma":42.829},{"i":108.2,"ma":42.819},{"i":112.7,"ma":42.812},{"i":117.2,"ma":42.809},{"i":121.5,"ma":42.793},{"i":126,"ma":42.786},{"i":130.5,"ma":42.779},{"i":134.7,"ma":42.775},{"i":139.3,"ma":42.769},{"i":141.9,"ma":42.763},{"i":146.4,"ma":42.740},{"i":149.9,"ma":42.717},{"i":153.3,"ma":42.695},{"i":157,"ma":42.680},{"i":161.3,"ma":42.650},{"i":165.8,"ma":42.617},{"i":170.3,"ma":42.584},{"i":174.5,"ma":42.558},{"i":180.9,"ma":42.527},{"i":185.1,"ma":42.511},{"i":190.5,"ma":42.504},{"i":195,"ma":42.506},{"i":200.3,"ma":42.512},{"i":204.8,"ma":42.518},{"i":209,"ma":42.521},{"i":213.5,"ma":42.527},{"i":218,"ma":42.534},{"i":221.5,"ma":42.541},{"i":226.8,"ma":42.564},{"i":231.3,"ma":42.587},{"i":235.5,"ma":42.607},{"i":240.1,"ma":42.629},{"i":244.6,"ma":42.653},{"i":248.8,"ma":42.673},{"i":253.3,"ma":42.686},{"i":257.8,"ma":42.706},{"i":262.1,"ma":42.726},{"i":265.8,"ma":42.746},{"i":270,"ma":42.763},{"i":274.5,"ma":42.776},{"i":279,"ma":42.792},{"i":283.3,"ma":42.809},{"i":287.8,"ma":42.816},{"i":290.5,"ma":42.817},{"i":293.1,"ma":42.829},{"i":296.6,"ma":42.849},{"i":301.1,"ma":42.872},{"i":305.6,"ma":42.902},{"i":309.8,"ma":42.931},{"i":314.3,"ma":42.948},{"i":318.8,"ma":42.961},{"i":323.1,"ma":42.978},{"i":327.6,"ma":42.993},{"i":332.1,"ma":42.998},{"i":336.3,"ma":42.986},{"i":340.8,"ma":42.962},{"i":345.4,"ma":42.930},{"i":349.6,"ma":42.906},{"i":354.1,"ma":42.875},{"i":358.6,"ma":42.852},{"i":362.9,"ma":42.836},{"i":367.4,"ma":42.819},{"i":371.9,"ma":42.812},{"i":376.1,"ma":42.809},{"i":380.6,"ma":42.802},{"i":385.1,"ma":42.793},{"i":389.4,"ma":42.781},{"i":393.9,"ma":42.773},{"i":398.4,"ma":42.756},{"i":402.7,"ma":42.733},{"i":407.2,"ma":42.708},{"i":411.7,"ma":42.684},{"i":416,"ma":42.657},{"i":420.4,"ma":42.624},{"i":424.9,"ma":42.591},{"i":429.2,"ma":42.558},{"i":433.7,"ma":42.531},{"i":438.2,"ma":42.498},{"i":442.5,"ma":42.465},{"i":447,"ma":42.442},{"i":451.5,"ma":42.406},{"i":455.7,"ma":42.373},{"i":460.2,"ma":42.340},{"i":464.7,"ma":42.320},{"i":469,"ma":42.300},{"i":473.5,"ma":42.273},{"i":478,"ma":42.250},{"i":482.2,"ma":42.234},{"i":486.7,"ma":42.211},{"i":492.6,"ma":42.191},{"i":499.5,"ma":42.174},{"i":505,"ma":42.161},{"i":510.1,"ma":42.145},{"i":512.8,"ma":42.131},{"i":517.8,"ma":42.115},{"i":522.5,"ma":42.108},{"i":524,"ma":42.106}
],
"marks":[{"i":382,"p":42.846,"k":"sigS"},{"i":381.2,"p":42.771,"k":"exS"},{"i":384,"p":42.575,"k":"sigL"},{"i":384.8,"p":42.612,"k":"exL"}],
"tags":[{"p":42.106,"lab":"42.10","k":"ma"},{"p":42.0,"lab":"42.00","k":"last"}]
},
"layer":[
{"data":{"name":"bars"},"mark":{"type":"rule","color":"#000000","strokeWidth":1},
 "encoding":{
  "x":{"field":"i","type":"quantitative","title":null,"scale":{"domain":[-1.326,530],"nice":false,"zero":false},
   "axis":{"orient":"bottom","title":null,"values":[8.5,32.5,57,81.5,106,131,145,170,195,220,245,270,295,320,345,370,395,420,445,470,495,520],
    "labelExpr":"['08:59','09:44','10:24','11:25','12:11','','Aug 10','01:39','04:25','05:59','06:27','07:05','07:30','07:35','07:40','07:48','08:04','08:14','08:26','08:41','09:11','10:10'][indexof([8.5,32.5,57,81.5,106,131,145,170,195,220,245,270,295,320,345,370,395,420,445,470,495,520], datum.value)]",
    "labelPadding":9,"labelOverlap":false,"labelFlush":false,"tickSize":6}},
  "y":{"field":"l","type":"quantitative","title":null,"scale":{"domain":[41.7234,43.4238],"nice":false,"zero":false},
   "axis":{"orient":"right","title":null,"values":[41.8,41.9,42.2,42.3,42.4,42.5,42.6,42.7,42.8,42.9,43.0,43.1,43.2,43.3,43.4],"format":".2f","labelPadding":4,"tickSize":6,"labelOverlap":false,"labelFlush":false}},
  "y2":{"field":"h"}}},
{"data":{"values":[{}]},"mark":{"type":"rect","fill":"#e4e4e4","stroke":"#cfcfcf","strokeWidth":1},
 "encoding":{"x":{"datum":-1.326,"type":"quantitative","title":null},"x2":{"datum":547},
  "y":{"datum":41.6381,"type":"quantitative","title":null},"y2":{"datum":41.6143}}},
{"data":{"name":"bars"},"mark":{"type":"bar","width":3,"stroke":"#000000","strokeWidth":1},
 "encoding":{
  "x":{"field":"i","type":"quantitative","title":null},
  "y":{"field":"o","type":"quantitative","title":null},
  "y2":{"field":"c"},
  "fill":{"condition":{"test":"datum.c >= datum.o","value":"#ffffff"},"value":"#000000"}}},
{"data":{"name":"ma"},"mark":{"type":"line","color":"#3535ff","strokeWidth":1.3,"interpolate":"linear"},
 "encoding":{
  "x":{"field":"i","type":"quantitative","title":null},
  "y":{"field":"ma","type":"quantitative","title":null}}},
{"data":{"name":"marks"},"transform":[{"filter":"datum.k == 'sigS'"}],
 "mark":{"type":"point","filled":true,"color":"#ff00ff","opacity":1,"strokeWidth":0,"size":225,"shape":"M-0.27,-1L0.27,-1L0.27,0.2L0.67,0.2L0,1L-0.67,0.2L-0.27,0.2Z"},
 "encoding":{"x":{"field":"i","type":"quantitative","title":null},"y":{"field":"p","type":"quantitative","title":null}}},
{"data":{"name":"marks"},"transform":[{"filter":"datum.k == 'exS'"}],
 "mark":{"type":"point","filled":true,"color":"#ff00ff","opacity":1,"strokeWidth":0,"size":64,"shape":"M-0.5,-1L0.5,0L-0.5,1Z"},
 "encoding":{"x":{"field":"i","type":"quantitative","title":null},"y":{"field":"p","type":"quantitative","title":null}}},
{"data":{"name":"marks"},"transform":[{"filter":"datum.k == 'sigL'"}],
 "mark":{"type":"point","filled":true,"color":"#0000ff","opacity":1,"strokeWidth":0,"size":225,"shape":"M-0.27,1L0.27,1L0.27,-0.2L0.67,-0.2L0,-1L-0.67,-0.2L-0.27,-0.2Z"},
 "encoding":{"x":{"field":"i","type":"quantitative","title":null},"y":{"field":"p","type":"quantitative","title":null}}},
{"data":{"name":"marks"},"transform":[{"filter":"datum.k == 'exL'"}],
 "mark":{"type":"point","filled":true,"color":"#0000ff","opacity":1,"strokeWidth":0,"size":64,"shape":"M0.5,-1L-0.5,0L0.5,1Z"},
 "encoding":{"x":{"field":"i","type":"quantitative","title":null},"y":{"field":"p","type":"quantitative","title":null}}},
{"data":{"name":"tags"},
 "mark":{"type":"point","filled":true,"opacity":1,"strokeWidth":0,"size":5184,"shape":"M-1,0L-0.78,-0.375L1,-0.375L1,0.375L-0.78,0.375Z"},
 "encoding":{"x":{"datum":537.7,"type":"quantitative","title":null},
  "y":{"field":"p","type":"quantitative","title":null},
  "color":{"field":"k","type":"nominal","scale":{"domain":["ma","last"],"range":["#0000ff","#000000"]},"legend":null}}},
{"data":{"name":"tags"},
 "mark":{"type":"text","align":"left","baseline":"middle","fontSize":20.5,"font":"Liberation Sans","color":"#ffffff"},
 "encoding":{"x":{"datum":532.4,"type":"quantitative","title":null},
  "y":{"field":"p","type":"quantitative","title":null},
  "text":{"field":"lab","type":"nominal"}}},
{"data":{"values":[{}]},
 "mark":{"type":"text","align":"left","baseline":"middle","fontSize":20.5,"font":"Liberation Sans","color":"#000000","text":"© 2016 NinjaTrader, LLC"},
 "encoding":{"x":{"datum":-1.326,"type":"quantitative","title":null},
  "y":{"datum":41.757,"type":"quantitative","title":null}}}
]
}
